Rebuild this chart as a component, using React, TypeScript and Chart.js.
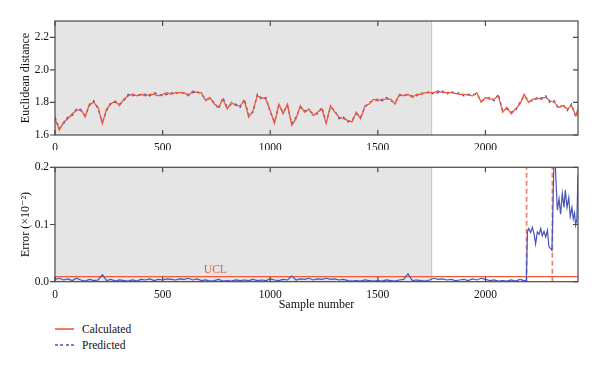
import React, { useEffect, useRef } from "react";
import { Chart, registerables } from "chart.js";

Chart.register(...registerables);

// ---------- data ----------
const X_MAX = 2430;
const X_TICKS = [0, 500, 1000, 1500, 2000];
const TOP_Y_TICKS = [1.6, 1.8, 2.0, 2.2];
const BOTTOM_Y_TICKS = [0.0, 0.1, 0.2];
const SHADE_START = 0;
const SHADE_END = 1750;
const UCL = 0.009;
const FAULT_SAMPLES = [2191, 2311];

const TOP_SAMPLES = [
  0, 20, 40, 60, 80, 100, 120, 140, 160, 180,
  200, 220, 240, 260, 280, 300, 320, 340, 360, 380,
  400, 420, 440, 460, 480, 500, 520, 540, 560, 580,
  600, 620, 640, 660, 680, 700, 720, 740, 760, 780,
  800, 820, 840, 860, 880, 900, 920, 940, 960, 980,
  1000, 1020, 1040, 1060, 1080, 1100, 1120, 1140, 1160, 1180,
  1200, 1220, 1240, 1260, 1280, 1300, 1320, 1340, 1360, 1380,
  1400, 1420, 1440, 1460, 1480, 1500, 1520, 1540, 1560, 1580,
  1600, 1620, 1640, 1660, 1680, 1700, 1720, 1740, 1760, 1780,
  1800, 1820, 1840, 1860, 1880, 1900, 1920, 1940, 1960, 1980,
  2000, 2020, 2040, 2060, 2080, 2100, 2120, 2140, 2160, 2180,
  2200, 2220, 2240, 2260, 2280, 2300, 2320, 2340, 2360, 2380,
  2400, 2420, 2430,
];

const CALCULATED = [
  1.70, 1.63, 1.68, 1.70, 1.73, 1.75, 1.76, 1.71, 1.79, 1.80,
  1.77, 1.67, 1.76, 1.79, 1.81, 1.78, 1.82, 1.84, 1.85, 1.84,
  1.85, 1.84, 1.85, 1.85, 1.84, 1.85, 1.86, 1.85, 1.86, 1.86,
  1.86, 1.84, 1.87, 1.86, 1.86, 1.81, 1.83, 1.79, 1.77, 1.82,
  1.76, 1.80, 1.78, 1.78, 1.81, 1.71, 1.75, 1.84, 1.83, 1.82,
  1.75, 1.67, 1.79, 1.73, 1.79, 1.66, 1.70, 1.78, 1.74, 1.76,
  1.72, 1.74, 1.76, 1.67, 1.78, 1.74, 1.71, 1.70, 1.69, 1.68,
  1.74, 1.70, 1.78, 1.79, 1.82, 1.81, 1.82, 1.82, 1.82, 1.79,
  1.85, 1.84, 1.85, 1.83, 1.85, 1.85, 1.86, 1.86, 1.86, 1.87,
  1.86, 1.86, 1.86, 1.855, 1.85, 1.85, 1.845, 1.84, 1.86, 1.80,
  1.83, 1.82, 1.82, 1.84, 1.74, 1.77, 1.73, 1.76, 1.79, 1.85,
  1.80, 1.82, 1.82, 1.83, 1.83, 1.81, 1.80, 1.77, 1.78, 1.76,
  1.78, 1.72, 1.76,
];

const PREDICTED = [
  1.71, 1.64, 1.67, 1.71, 1.72, 1.76, 1.75, 1.72, 1.78, 1.81,
  1.76, 1.68, 1.75, 1.80, 1.80, 1.79, 1.81, 1.85, 1.84, 1.85,
  1.84, 1.85, 1.84, 1.86, 1.85, 1.84, 1.85, 1.86, 1.85, 1.87,
  1.85, 1.85, 1.86, 1.87, 1.85, 1.82, 1.82, 1.80, 1.76, 1.83,
  1.77, 1.79, 1.79, 1.77, 1.82, 1.72, 1.74, 1.85, 1.82, 1.83,
  1.74, 1.68, 1.78, 1.74, 1.78, 1.67, 1.71, 1.77, 1.75, 1.75,
  1.73, 1.73, 1.77, 1.68, 1.77, 1.75, 1.70, 1.71, 1.68, 1.69,
  1.73, 1.71, 1.77, 1.80, 1.81, 1.82, 1.81, 1.83, 1.81, 1.80,
  1.84, 1.85, 1.84, 1.84, 1.84, 1.86, 1.85, 1.87, 1.85, 1.86,
  1.87, 1.85, 1.87, 1.85, 1.86, 1.84, 1.85, 1.85, 1.85, 1.81,
  1.82, 1.83, 1.81, 1.85, 1.75, 1.76, 1.74, 1.75, 1.80, 1.84,
  1.81, 1.81, 1.83, 1.82, 1.84, 1.80, 1.81, 1.76, 1.79, 1.75,
  1.79, 1.71, 1.75,
];

const ERROR_SAMPLES = [
  0, 20, 40, 60, 80, 100, 120, 140, 160, 180,
  200, 220, 240, 260, 280, 300, 320, 340, 360, 380,
  400, 420, 440, 460, 480, 500, 520, 540, 560, 580,
  600, 620, 640, 660, 680, 700, 720, 740, 760, 780,
  800, 820, 840, 860, 880, 900, 920, 940, 960, 980,
  1000, 1020, 1040, 1060, 1080, 1100, 1120, 1140, 1160, 1180,
  1200, 1220, 1240, 1260, 1280, 1300, 1320, 1340, 1360, 1380,
  1400, 1420, 1440, 1460, 1480, 1500, 1520, 1540, 1560, 1580,
  1600, 1620, 1640, 1660, 1680, 1700, 1720, 1740, 1760, 1780,
  1800, 1820, 1840, 1860, 1880, 1900, 1920, 1940, 1960, 1980,
  2000, 2020, 2040, 2060, 2080, 2100, 2120, 2140, 2160, 2180,
  2190, 2195, 2201, 2210, 2218, 2226, 2233, 2241, 2249, 2257,
  2264, 2272, 2280, 2288, 2295, 2303, 2309, 2318, 2325, 2334,
  2342, 2349, 2357, 2365, 2371, 2379, 2387, 2394, 2402, 2408,
  2414, 2419, 2425, 2430,
];

const ERROR_VALUES = [
  0.004, 0.006, 0.003, 0.005, 0.002, 0.006, 0.003, 0.001, 0.004, 0.002,
  0.003, 0.012, 0.002, 0.004, 0.001, 0.003, 0.002, 0.001, 0.003, 0.001,
  0.004, 0.003, 0.005, 0.002, 0.004, 0.003, 0.005, 0.004, 0.003, 0.005,
  0.004, 0.006, 0.003, 0.005, 0.002, 0.003, 0.001, 0.002, 0.004, 0.001,
  0.002, 0.001, 0.003, 0.002, 0.003, 0.002, 0.004, 0.002, 0.003, 0.002,
  0.005, 0.003, 0.002, 0.004, 0.003, 0.010, 0.003, 0.005, 0.004, 0.006,
  0.003, 0.005, 0.004, 0.006, 0.004, 0.005, 0.003, 0.004, 0.002, 0.001,
  0.002, 0.001, 0.003, 0.002, 0.001, 0.002, 0.001, 0.003, 0.002, 0.001,
  0.003, 0.004, 0.014, 0.002, 0.003, 0.002, 0.001, 0.003, 0.006, 0.004,
  0.005, 0.003, 0.004, 0.002, 0.003, 0.004, 0.002, 0.005, 0.003, 0.006,
  0.004, 0.002, 0.003, 0.001, 0.002, 0.001, 0.003, 0.001, 0.004, 0.002,
  0.001, 0.087, 0.093, 0.086, 0.095, 0.083, 0.066, 0.087, 0.083, 0.093,
  0.080, 0.088, 0.078, 0.090, 0.061, 0.058, 0.055, 0.205, 0.200, 0.125,
  0.145, 0.118, 0.154, 0.130, 0.160, 0.130, 0.147, 0.114, 0.130, 0.110,
  0.120, 0.099, 0.110, 0.187,
];

// ---------- style ----------
const FONT_FAMILY = "'Liberation Serif', 'DejaVu Serif', serif";
const TEXT = "#111111";
const ORANGE = "#f05a3c";
const FAULT = "rgba(240, 100, 70, 0.8)";
const BLUE = "#4753b6";
const FRAME = "#4a4a4a";
const SHADE = "#e5e5e5";

const pts = (xs: number[], ys: number[]) => xs.map((x, i) => ({ x, y: ys[i] }));

const framePlugin = {
  id: "frame",
  beforeDatasetsDraw(chart: any) {
    const { ctx, chartArea: a, scales } = chart;
    const x1 = scales.x.getPixelForValue(SHADE_START);
    const x2 = scales.x.getPixelForValue(SHADE_END);
    ctx.save();
    ctx.fillStyle = SHADE;
    ctx.fillRect(x1, a.top, x2 - x1, a.bottom - a.top);
    ctx.strokeStyle = "#c4c4c4";
    ctx.lineWidth = 1;
    ctx.beginPath();
    ctx.moveTo(x2, a.top);
    ctx.lineTo(x2, a.bottom);
    ctx.stroke();
    ctx.restore();
  },
  afterDatasetsDraw(chart: any, _args: any, opts: any) {
    const { ctx, chartArea: a, scales } = chart;
    const L = 5;
    ctx.save();
    if (opts && opts.label) {
      ctx.fillStyle = ORANGE;
      ctx.font = `11.5px ${FONT_FAMILY}`;
      ctx.textAlign = "center";
      ctx.textBaseline = "alphabetic";
      ctx.fillText(
        opts.label,
        scales.x.getPixelForValue(opts.labelX),
        scales.y.getPixelForValue(opts.labelY) - 4
      );
    }
    ctx.strokeStyle = FRAME;
    ctx.lineWidth = 1.2;
    ctx.strokeRect(a.left, a.top, a.right - a.left, a.bottom - a.top);
    ctx.beginPath();
    for (const t of scales.x.ticks) {
      const px = scales.x.getPixelForValue(t.value);
      ctx.moveTo(px, a.bottom);
      ctx.lineTo(px, a.bottom - L);
      ctx.moveTo(px, a.top);
      ctx.lineTo(px, a.top + L);
    }
    for (const t of scales.y.ticks) {
      const py = scales.y.getPixelForValue(t.value);
      ctx.moveTo(a.left - L, py);
      ctx.lineTo(a.left, py);
      ctx.moveTo(a.right, py);
      ctx.lineTo(a.right - L, py);
    }
    ctx.stroke();
    ctx.restore();
  },
};

const tickFont = { family: FONT_FAMILY, size: 11.5 };

function xScale(height: number, title?: string, titlePad = 0) {
  return {
    type: "linear",
    min: 0,
    max: X_MAX,
    afterBuildTicks: (s: any) => {
      s.ticks = X_TICKS.map((v) => ({ value: v }));
    },
    afterFit: (s: any) => {
      s.height = height;
    },
    grid: { display: false, drawTicks: false },
    border: { display: false },
    ticks: {
      padding: 6,
      font: tickFont,
      color: TEXT,
      maxRotation: 0,
      autoSkip: false,
      callback: (v: any) => String(v),
    },
    title: title
      ? {
          display: true,
          text: title,
          font: { family: FONT_FAMILY, size: 12 },
          color: TEXT,
          padding: { top: 0, bottom: titlePad },
        }
      : { display: false },
  };
}

function yScale(min: number, max: number, ticks: number[], title: string) {
  return {
    type: "linear",
    min,
    max,
    afterBuildTicks: (s: any) => {
      s.ticks = ticks.map((v) => ({ value: v }));
    },
    afterFit: (s: any) => {
      s.width = 55;
    },
    grid: { display: false, drawTicks: false },
    border: { display: false },
    ticks: {
      padding: 6,
      font: tickFont,
      color: TEXT,
      callback: (v: any) => Number(v).toFixed(1),
    },
    title: {
      display: true,
      text: title,
      font: { family: FONT_FAMILY, size: 12 },
      color: TEXT,
      padding: { top: 18.5, bottom: 0 },
    },
  };
}

function TopChart() {
  const ref = useRef<HTMLCanvasElement>(null);
  useEffect(() => {
    const chart = new Chart(ref.current as HTMLCanvasElement, {
      type: "line",
      data: {
        datasets: [
          {
            label: "Calculated",
            data: pts(TOP_SAMPLES, CALCULATED),
            borderColor: ORANGE,
            borderWidth: 1.3,
            pointRadius: 0,
            tension: 0,
          },
          {
            label: "Predicted",
            data: pts(TOP_SAMPLES, PREDICTED),
            borderColor: BLUE,
            borderWidth: 1.3,
            borderDash: [3, 3],
            pointRadius: 0,
            tension: 0,
          },
        ],
      },
      options: {
        animation: false,
        responsive: false,
        maintainAspectRatio: false,
        layout: { padding: { left: 0, right: 22, top: 21, bottom: 0 } },
        plugins: { legend: { display: false }, tooltip: { enabled: false } },
        scales: {
          x: xScale(15),
          y: yScale(1.6, 2.3, TOP_Y_TICKS, "Euclidean distance"),
        },
      } as any,
      plugins: [framePlugin],
    });
    return () => chart.destroy();
  }, []);
  return <canvas ref={ref} width={600} height={150} style={{ position: "absolute", left: 0, top: 0 }} />;
}

function BottomChart() {
  const ref = useRef<HTMLCanvasElement>(null);
  useEffect(() => {
    const faultSets = FAULT_SAMPLES.map((s) => ({
      label: "fault",
      data: [
        { x: s, y: BOTTOM_Y_TICKS[0] },
        { x: s, y: BOTTOM_Y_TICKS[BOTTOM_Y_TICKS.length - 1] },
      ],
      borderColor: FAULT,
      borderWidth: 1.8,
      borderDash: [5, 3],
      pointRadius: 0,
    }));
    const chart = new Chart(ref.current as HTMLCanvasElement, {
      type: "line",
      data: {
        datasets: [
          {
            label: "Error",
            data: pts(ERROR_SAMPLES, ERROR_VALUES),
            borderColor: BLUE,
            borderWidth: 1.2,
            pointRadius: 0,
            tension: 0,
          },
          {
            label: "UCL",
            data: [
              { x: 0, y: UCL },
              { x: X_MAX, y: UCL },
            ],
            borderColor: ORANGE,
            borderWidth: 1.2,
            pointRadius: 0,
          },
          ...faultSets,
        ],
      },
      options: {
        animation: false,
        responsive: false,
        maintainAspectRatio: false,
        layout: { padding: { left: 0, right: 22, top: 17.3, bottom: 0 } },
        plugins: {
          legend: { display: false },
          tooltip: { enabled: false },
          frame: { label: "UCL", labelX: 745, labelY: UCL },
        },
        scales: {
          x: xScale(38.3, "Sample number", 8.4),
          y: yScale(0, 0.2, BOTTOM_Y_TICKS, "Error (×10⁻²)"),
        },
      } as any,
      plugins: [framePlugin],
    });
    return () => chart.destroy();
  }, []);
  return <canvas ref={ref} width={600} height={170} style={{ position: "absolute", left: 0, top: 150 }} />;
}

function LegendRow({ top, label, dashed }: { top: number; label: string; dashed: boolean }) {
  const lineStyle: React.CSSProperties = dashed
    ? {
        width: 19,
        height: 1.5,
        background: `repeating-linear-gradient(to right, ${BLUE} 0px, ${BLUE} 3px, transparent 3px, transparent 5.5px)`,
        opacity: 0.75,
      }
    : { width: 19, height: 1.5, background: ORANGE, opacity: 0.8 };
  return (
    <div style={{ position: "absolute", left: 55, top: top - 8, height: 16, display: "flex", alignItems: "center" }}>
      <div style={lineStyle} />
      <span style={{ marginLeft: 8, fontFamily: FONT_FAMILY, fontSize: 11.5, color: TEXT, lineHeight: "16px" }}>
        {label}
      </span>
    </div>
  );
}

export default function App() {
  return (
    <div style={{ position: "fixed", left: 0, top: 0, width: 600, height: 370, background: "#ffffff", overflow: "hidden" }}>
      <TopChart />
      <BottomChart />
      <LegendRow top={329} label="Calculated" dashed={false} />
      <LegendRow top={345} label="Predicted" dashed={true} />
    </div>
  );
}
